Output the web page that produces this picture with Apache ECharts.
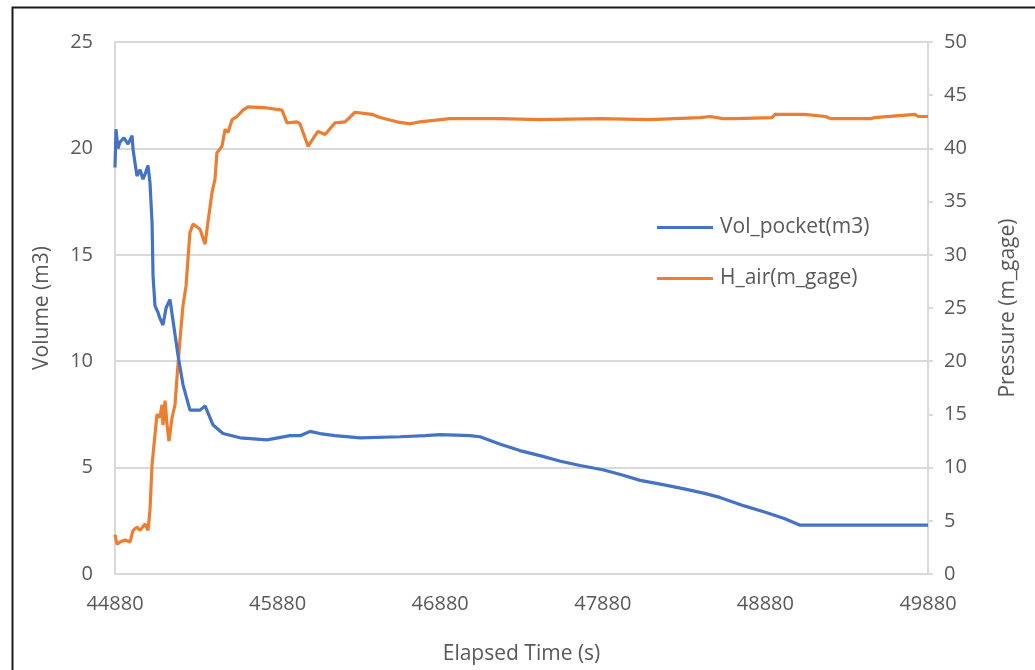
<!DOCTYPE html>
<html>
<head>
<meta charset="utf-8">
<script src="https://cdn.jsdelivr.net/npm/echarts@6/dist/echarts.min.js"></script>
<style>html,body{margin:0;padding:0;background:#fff;}#c{width:1035px;height:670px;}</style>
</head>
<body>
<div id="c"></div>
<script>
var T0 = 44880;
var xTickLabels = [44880, 45880, 46880, 47880, 48880, 49880];
var volTime = [44880,44886,44898,44911,44935,44960,44985,44991,45015,45034,45052,45070,45083,45095,45108,45114,45126,45144,45157,45175,45194,45218,45237,45267,45298,45341,45403,45434,45483,45544,45649,45815,45956,46018,46079,46140,46233,46387,46633,46787,46879,47063,47125,47250,47370,47500,47620,47740,47880,48000,48110,48250,48380,48500,48600,48750,48880,49000,49090,49300,49600,49880];
var volValue = [19.1,20.9,20.0,20.3,20.5,20.2,20.6,19.95,18.7,19.0,18.55,18.9,19.2,18.4,16.5,14.0,12.6,12.3,12.0,11.7,12.5,12.9,11.9,10.3,8.9,7.7,7.7,7.9,7.0,6.6,6.4,6.3,6.5,6.5,6.7,6.6,6.5,6.4,6.45,6.5,6.55,6.5,6.45,6.1,5.8,5.55,5.3,5.1,4.9,4.65,4.4,4.2,4.0,3.8,3.6,3.2,2.9,2.6,2.3,2.3,2.3,2.3];
var presTime = [44880,44892,44911,44941,44972,44991,45015,45034,45065,45083,45095,45108,45126,45138,45157,45169,45175,45188,45200,45212,45231,45249,45261,45280,45298,45317,45341,45360,45403,45434,45452,45477,45495,45507,45538,45557,45575,45600,45630,45667,45698,45815,45907,45938,45999,46018,46067,46128,46172,46233,46295,46356,46461,46510,46614,46694,46756,46940,47248,47494,47863,48170,48478,48540,48620,48700,48920,48940,49120,49250,49280,49530,49550,49800,49820,49880];
var presValue = [3.7,2.8,3.0,3.2,3.0,4.1,4.4,4.1,4.7,4.1,6.0,10.3,13.1,15.0,14.7,15.9,14.0,16.3,14.0,12.5,14.7,15.9,18.4,22.1,25.2,27.1,32.1,32.9,32.4,31.0,33.1,35.9,37.1,39.6,40.2,41.8,41.5,42.7,43.0,43.6,43.9,43.8,43.6,42.4,42.5,42.3,40.2,41.6,41.3,42.4,42.5,43.4,43.2,42.9,42.5,42.3,42.5,42.8,42.8,42.7,42.8,42.7,42.9,43.0,42.8,42.8,42.9,43.2,43.2,43.0,42.8,42.8,42.9,43.2,43.0,43.0];

function pairs(t, v) { return t.map(function (x, i) { return [x - T0, v[i]]; }); }

var FONT = '"Open Sans", "Noto Sans", sans-serif';
var LABEL = '#595959';
var AXIS = '#d9d9d9';

var chart = echarts.init(document.getElementById('c'), null, { renderer: 'canvas' });
chart.setOption({
  animation: false,
  backgroundColor: '#fff',
  textStyle: { fontFamily: FONT },
  graphic: [{
    type: 'rect', left: 10, top: 5, shape: { x: 0, y: 0, width: 1040, height: 700 },
    style: { fill: 'none', stroke: '#1a1a1a', lineWidth: 2 }, silent: true
  }],
  grid: { left: 115, right: 107, top: 42, bottom: 93, containLabel: false },
  legend: {
    orient: 'vertical', left: 652, top: 212, itemGap: 30, itemWidth: 56, itemHeight: 3,
    icon: 'rect',
    textStyle: { color: LABEL, fontSize: 21, fontFamily: FONT, padding: [0, 0, 0, 2] },
    data: ['Vol_pocket(m3)', 'H_air(m_gage)']
  },
  xAxis: {
    type: 'value', min: 0, max: 5000, interval: 1000,
    name: 'Elapsed Time (s)', nameLocation: 'middle', nameGap: 70,
    nameTextStyle: { color: LABEL, fontSize: 21, fontFamily: FONT },
    axisLine: { show: true, lineStyle: { color: AXIS, width: 2 } },
    axisTick: { show: false },
    axisLabel: { color: LABEL, fontSize: 20, fontFamily: FONT, margin: 20,
      formatter: function (v) { return String(xTickLabels[Math.round(v / 1000)]); } },
    splitLine: { show: false }
  },
  yAxis: [{
    type: 'value', min: 0, max: 25, interval: 5, position: 'left',
    name: 'Volume (m3)', nameLocation: 'middle', nameGap: 62,
    nameTextStyle: { color: LABEL, fontSize: 21, fontFamily: FONT },
    axisLine: { show: true, lineStyle: { color: AXIS, width: 2 } },
    axisTick: { show: false },
    axisLabel: { color: LABEL, fontSize: 20, fontFamily: FONT, margin: 22 },
    splitLine: { show: true, lineStyle: { color: AXIS, width: 2 } }
  }, {
    type: 'value', min: 0, max: 50, interval: 5, position: 'right',
    name: 'Pressure (m_gage)', nameLocation: 'middle', nameGap: 70,
    nameTextStyle: { color: LABEL, fontSize: 21, fontFamily: FONT },
    axisLine: { show: true, lineStyle: { color: AXIS, width: 2 } },
    axisTick: { show: true, length: 5, inside: false, lineStyle: { color: AXIS, width: 2 } },
    axisLabel: { color: LABEL, fontSize: 20, fontFamily: FONT, margin: 16 },
    splitLine: { show: false }
  }],
  series: [{
    name: 'Vol_pocket(m3)', type: 'line', yAxisIndex: 0, showSymbol: false, symbol: 'none',
    data: pairs(volTime, volValue),
    lineStyle: { color: '#4472C4', width: 3.2 }, itemStyle: { color: '#4472C4' }, z: 3
  }, {
    name: 'H_air(m_gage)', type: 'line', yAxisIndex: 1, showSymbol: false, symbol: 'none',
    data: pairs(presTime, presValue),
    lineStyle: { color: '#ED7D31', width: 3.2 }, itemStyle: { color: '#ED7D31' }, z: 2
  }]
});
</script>
</body>
</html>
